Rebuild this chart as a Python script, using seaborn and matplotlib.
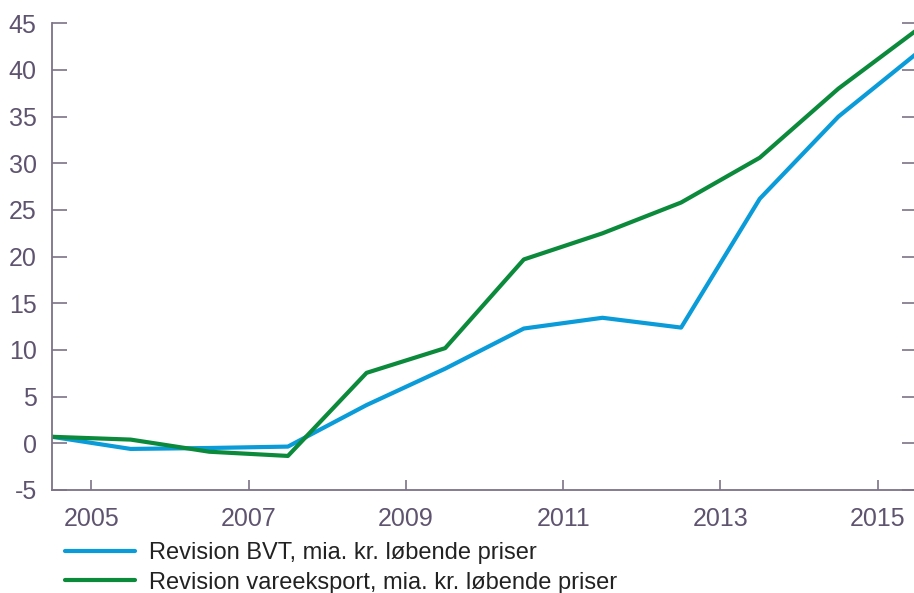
import pandas as pd
import matplotlib
matplotlib.use('Agg')
import matplotlib.pyplot as plt
import seaborn as sns

years = [2004.5, 2005.5, 2006.5, 2007.5, 2008.5, 2009.5,
         2010.5, 2011.5, 2012.5, 2013.5, 2014.5, 2015.5]
bvt = [0.7, -0.6, -0.5, -0.35, 4.1, 8.0, 12.3, 13.45, 12.4, 26.2, 35.0, 41.8]
vareeksport = [0.7, 0.4, -0.9, -1.35, 7.55, 10.2, 19.7, 22.5, 25.8, 30.6, 38.0, 44.3]

label_bvt = 'Revision BVT, mia. kr. løbende priser'
label_vare = 'Revision vareeksport, mia. kr. løbende priser'

x_ticks = [2005, 2007, 2009, 2011, 2013, 2015]
y_ticks = [-5, 0, 5, 10, 15, 20, 25, 30, 35, 40, 45]

df = pd.concat([
    pd.DataFrame({'year': years, 'value': bvt, 'series': label_bvt}),
    pd.DataFrame({'year': years, 'value': vareeksport, 'series': label_vare}),
])

sns.set_style('white')
plt.rcParams['font.family'] = ['Liberation Sans', 'DejaVu Sans']
plt.rcParams['axes.unicode_minus'] = False

axis_col = '#7d7288'
tick_col = '#5f5470'

fig = plt.figure(figsize=(9.14, 5.93), dpi=100)
ax = fig.add_axes([0.0569, 0.1737, 0.9464, 0.787])

sns.lineplot(
    data=df,
    x='year',
    y='value',
    hue='series',
    palette={label_bvt: '#0a9bd9', label_vare: '#0b8a3b'},
    linewidth=3,
    ax=ax
)

ax.set_xlim(2004.5, 2015.5)
ax.set_ylim(-5, 45)
ax.set_xticks(x_ticks)
ax.set_yticks(y_ticks)
ax.set_xlabel('')
ax.set_ylabel('')

for side in ['top', 'right']:
    ax.spines[side].set_visible(False)
for side in ['left', 'bottom']:
    ax.spines[side].set_color(axis_col)
    ax.spines[side].set_linewidth(1.3)

ax.tick_params(axis='y', which='major', direction='in', length=11, width=1.2,
               color=axis_col, labelcolor=tick_col, labelsize=18, pad=11,
               left=True, right=True)
ax.tick_params(axis='x', which='major', direction='in', length=7, width=1.2,
               color=axis_col, labelcolor=tick_col, labelsize=18, pad=12,
               bottom=True)

handles, labels = ax.get_legend_handles_labels()
ax.get_legend().remove()
fig.legend(handles, labels, loc='upper left', bbox_to_anchor=(0.071, 0.086),
           frameon=False, fontsize=17, handlelength=2.95, handletextpad=0.62,
           labelspacing=0.32, borderpad=0, borderaxespad=0, labelcolor='#222222')

fig.savefig('out.png', dpi=100)
